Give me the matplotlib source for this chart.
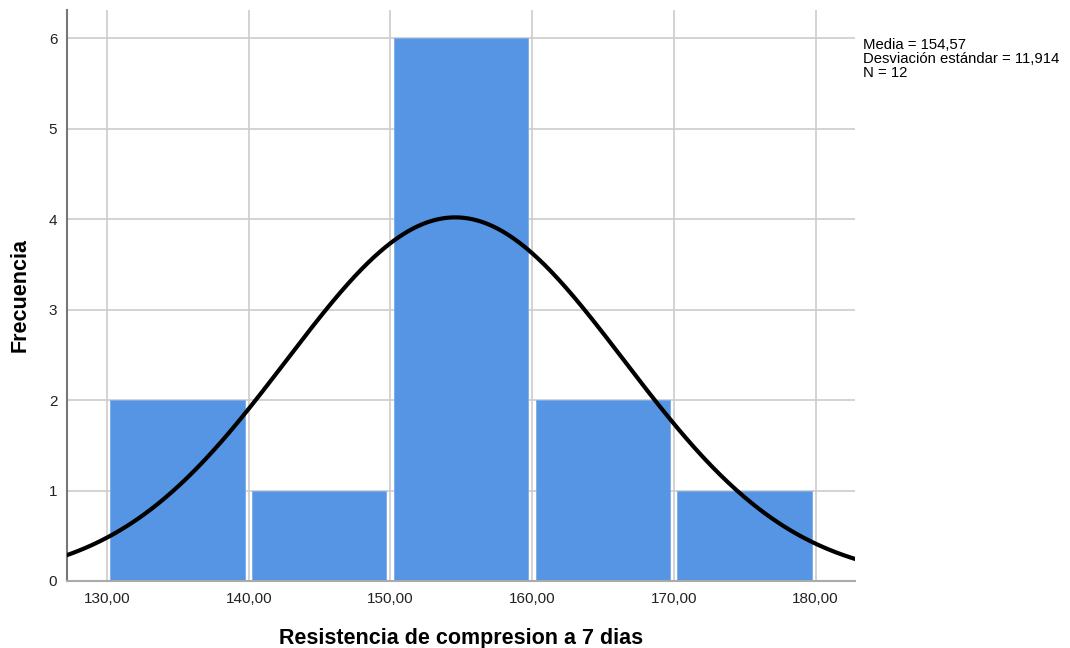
import numpy as np
import matplotlib.pyplot as plt

plt.rcParams['font.family'] = ['Liberation Sans', 'DejaVu Sans']

# histogram bins and counts
bin_edges = [130, 140, 150, 160, 170, 180]
counts = [2, 1, 6, 2, 1]
media = 154.57
desv = 11.914
n = 12
xticks = [130, 140, 150, 160, 170, 180]
xtick_labels = ['130,00', '140,00', '150,00', '160,00', '170,00', '180,00']
yticks = [0, 1, 2, 3, 4, 5, 6]

fig = plt.figure(figsize=(10.7, 6.48), dpi=100)
ax = fig.add_axes([0.0626, 0.1034, 0.7364, 0.8812])

ax.set_axisbelow(True)
ax.grid(True, color='#cccccc', linewidth=1.2)

# bars slightly inset so the white gap and gridline show between them
gap_l, gap_r = 0.24, 0.28
lefts = np.array(bin_edges[:-1]) + gap_l
widths = np.diff(bin_edges) - gap_l - gap_r
ax.bar(lefts, counts, width=widths, align='edge', color='#5595e3',
       edgecolor='#7aabe8', linewidth=0.6, zorder=2)

# normal curve scaled to the histogram
xs = np.linspace(126, 184, 400)
width = bin_edges[1] - bin_edges[0]
ys = n * width / (desv * np.sqrt(2 * np.pi)) * np.exp(-0.5 * ((xs - media) / desv) ** 2)
ax.plot(xs, ys, color='black', linewidth=3, zorder=3)

ax.set_xlim(127.18, 182.77)
ax.set_ylim(0, 6.31)
ax.set_xticks(xticks)
ax.set_xticklabels(xtick_labels)
ax.set_yticks(yticks)
ax.tick_params(length=0, labelsize=11, colors='#222222', pad=8)
ax.tick_params(axis='y', pad=7)

for s in ['top', 'right']:
    ax.spines[s].set_visible(False)
ax.spines['left'].set_color('#777777')
ax.spines['bottom'].set_color('#aaaaaa')
ax.spines['left'].set_linewidth(1.5)
ax.spines['bottom'].set_linewidth(1.5)

ax.set_xlabel('Resistencia de compresion a 7 dias', fontsize=15.5, fontweight='bold', labelpad=16)
ax.set_ylabel('Frecuencia', fontsize=15.5, fontweight='bold', labelpad=13)

fig.text(0.807, 0.941,
         'Media = 154,57\nDesviación estándar = 11,914\nN = 12',
         fontsize=10.7, va='top', ha='left', linespacing=1.0)

plt.savefig('out.png', dpi=100)
